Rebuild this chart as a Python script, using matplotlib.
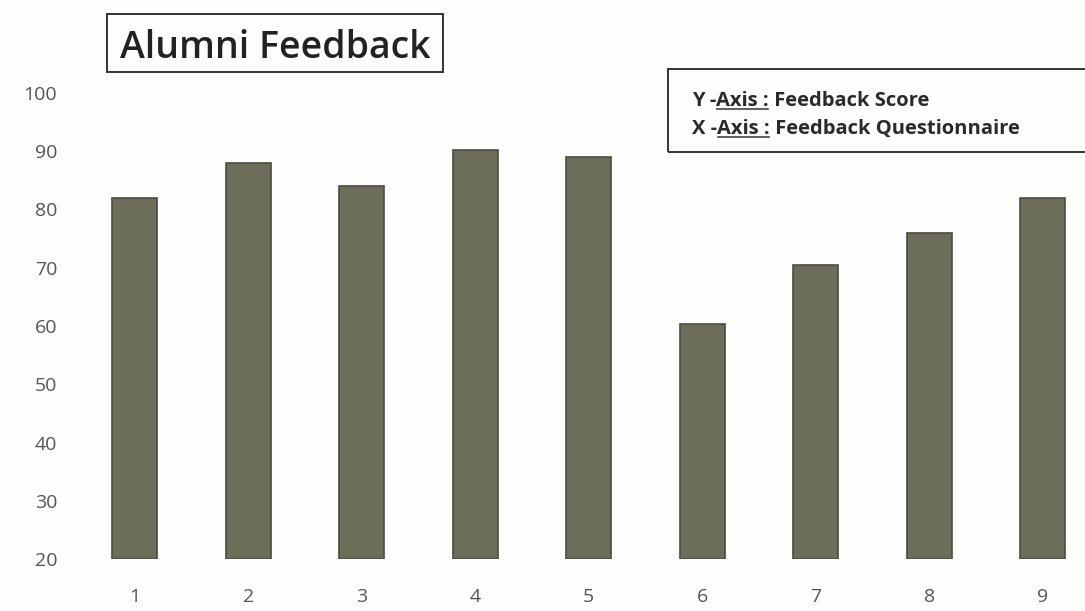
import matplotlib
matplotlib.use('Agg')
import matplotlib.pyplot as plt
from matplotlib.patches import Rectangle

# Alumni feedback scores
questions = [1, 2, 3, 4, 5, 6, 7, 8, 9]
scores = [82, 88, 84, 90.3, 89, 60.3, 70.5, 76, 82]
y_ticks = [20, 30, 40, 50, 60, 70, 80, 90, 100]
base = 20

W, H = 1085, 611
fig = plt.figure(figsize=(W / 100, H / 100), dpi=100)
fig.patch.set_facecolor('#fdfdfb')

# axes placed in pixel terms: x 78..1085, y 93..559
ax = fig.add_axes([78 / W, 1 - 559 / H, 1 - 78 / W, (559 - 93) / H])
ax.set_facecolor('none')

heights = [s - base for s in scores]
ax.bar(questions, heights, bottom=base, width=0.4,
       color='#6c6e5a', edgecolor='#4b4c40', linewidth=1.2)

ax.set_xlim(0.5, 0.5 + (W - 78) / 113.5)
ax.set_ylim(20, 100)
ax.set_yticks(y_ticks)
ax.set_xticks(questions)
ax.set_xticklabels([str(q) for q in questions])
ax.tick_params(length=0, labelsize=14, labelcolor='#555555')
ax.tick_params(axis='x', pad=21)
ax.tick_params(axis='y', pad=15)
for lab in ax.get_xticklabels() + ax.get_yticklabels():
    lab.set_fontfamily('Open Sans')
for sp in ax.spines.values():
    sp.set_visible(False)

def px(x, y):
    return x / W, 1 - y / H

# title box
x0, y0 = px(107, 72)
fig.patches.append(Rectangle((x0, y0), (443 - 107) / W, (72 - 14) / H,
                             transform=fig.transFigure, fill=False,
                             edgecolor='#333333', linewidth=1.4))
fig.text(*px(275, 58), 'Alumni Feedback', ha='center', va='baseline',
         fontsize=27, fontfamily='Open Sans', fontweight='semibold',
         color='#222222')

# axis legend box
x0, y0 = px(668, 152)
fig.patches.append(Rectangle((x0, y0), (1092 - 668) / W, (152 - 69) / H,
                             transform=fig.transFigure, fill=False,
                             edgecolor='#333333', linewidth=1.4))

fig.canvas.draw()
renderer = fig.canvas.get_renderer()
inv = fig.transFigure.inverted()

def line_parts(y, parts):
    x = 692
    for txt, under in parts:
        t = fig.text(*px(x, y), txt, ha='left', va='baseline', fontsize=14.5,
                     fontfamily='Open Sans', fontweight='bold', color='#2a2a2a')
        bb = t.get_window_extent(renderer)
        if under:
            (ux0, _), (ux1, _) = inv.transform([(bb.x0 + 1, 0), (bb.x1 - 1, 0)])
            uy = 1 - (y + 3) / H
            fig.add_artist(plt.Line2D([ux0, ux1], [uy, uy], transform=fig.transFigure,
                                      color='#444444', linewidth=1.2))
        x += bb.width

line_parts(106, [('Y -', False), ('Axis :', True), (' Feedback Score', False)])
line_parts(134, [('X -', False), ('Axis :', True), (' Feedback Questionnaire', False)])

fig.savefig('out.png', dpi=100)
